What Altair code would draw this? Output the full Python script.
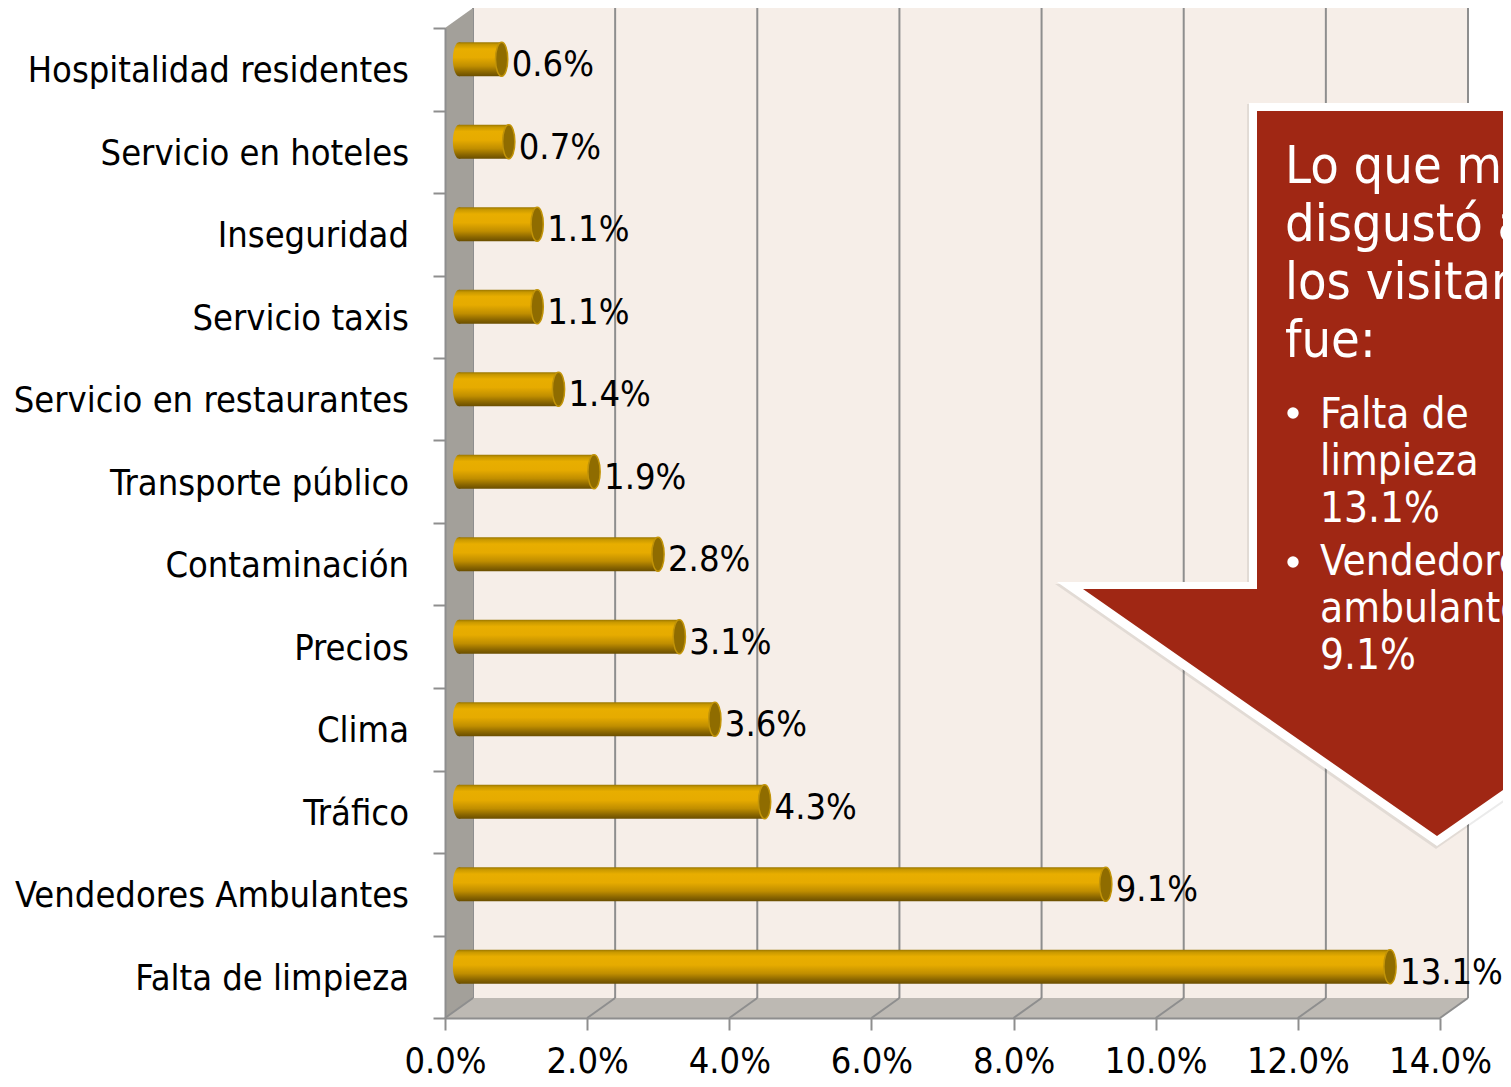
import altair as alt
import pandas as pd

# ---------------- data ----------------
categories = [
    "Hospitalidad residentes", "Servicio en hoteles", "Inseguridad",
    "Servicio taxis", "Servicio en restaurantes", "Transporte público",
    "Contaminación", "Precios", "Clima", "Tráfico",
    "Vendedores Ambulantes", "Falta de limpieza",
]
values = [0.6, 0.7, 1.1, 1.1, 1.4, 1.9, 2.8, 3.1, 3.6, 4.3, 9.1, 13.1]
x_ticks = [0, 2, 4, 6, 8, 10, 12, 14]
callout_title = ["Lo que más\ndisgustó a\nlos visitantes\nfue:"]
callout_items = ["Falta de\nlimpieza\n13.1%", "Vendedores\nambulantes\n9.1%"]

# ---------------- geometry ----------------
W, H = 995, 990
XMAX = 14
NROWS = len(categories)
PXX = W / XMAX
PXY = H / NROWS
DX = 28 / PXX
DY = 20 / PXY
HB = 17 / PXY
FONT = "DejaVu Sans Condensed"
GRAY = "#8E8E8E"


def X(px):
    return (px - 445) / PXX


def Y(py):
    return (1018 - py) / PXY


xs = alt.Scale(domain=[0, XMAX], nice=False, zero=False)
ys = alt.Scale(domain=[0, NROWS], nice=False, zero=False)
axX = alt.Axis(values=x_ticks, labelExpr="format(datum.value, '.1f') + '%'",
               labelFont=FONT, labelFontSize=36, labelColor="black",
               labelPadding=14, labelOverlap=False, labelFlush=False,
               tickSize=12, tickColor=GRAY, tickWidth=2,
               domainColor=GRAY, domainWidth=2, grid=False, title=None, zindex=1)
axY = alt.Axis(values=list(range(NROWS + 1)), labels=False, tickSize=12,
               tickColor=GRAY, tickWidth=2, domainColor=GRAY, domainWidth=2,
               grid=False, title=None, zindex=1)


def ex(f, **kw):
    return alt.X(f, scale=xs, axis=axX, title=None, **kw)


def ey(f, **kw):
    return alt.Y(f, scale=ys, axis=axY, title=None, **kw)


# ---------------- tables ----------------
bars = pd.DataFrame({"cat": categories, "val": values})
bars["row"] = [NROWS - i - 0.5 for i in range(NROWS)]
bars["yc"] = bars["row"] + DY / 2
bars["ylo"] = bars["yc"] - HB
bars["yhi"] = bars["yc"] + HB
bars["x0"] = DX / 2
bars["x1"] = bars["val"] + DX / 2
bars["lab"] = bars["val"].map(lambda v: f"{v:.1f}%")

wall = pd.DataFrame({"x": [DX], "x2": [XMAX + DX], "y": [DY], "y2": [NROWS + DY]})
side = pd.DataFrame({"x": [0, DX], "y": [0, DY], "y2": [NROWS, NROWS + DY]})
floor = pd.DataFrame({"x": [0, DX, XMAX, XMAX + DX],
                      "y": [0, 0, 0, DY], "y2": [0, DY, DY, DY]})
grid = pd.DataFrame({"t": x_ticks})

# ---------------- layers ----------------
back = alt.Chart(wall).mark_rect(color="#F6EEE8").encode(
    x=ex("x:Q"), x2="x2:Q", y=ey("y:Q"), y2="y2:Q")

side_l = alt.Chart(side).mark_area(color="#A3A09A", orient="vertical").encode(
    x=ex("x:Q"), y=ey("y:Q"), y2="y2:Q")

floor_l = alt.Chart(floor).mark_area(color="#BDB9B3", orient="vertical").encode(
    x=ex("x:Q"), y=ey("y:Q"), y2="y2:Q")

grid_back = alt.Chart(grid).transform_calculate(
    xb=f"datum.t + {DX}", yb=f"{DY}", yt=f"{NROWS + DY}"
).mark_rule(color=GRAY, strokeWidth=2).encode(
    x=ex("xb:Q"), y=ey("yb:Q"), y2="yt:Q")

grid_floor = alt.Chart(grid).transform_calculate(
    xb=f"datum.t + {DX}", y0="0", yb=f"{DY}"
).mark_rule(color=GRAY, strokeWidth=2).encode(
    x=ex("t:Q"), x2="xb:Q", y=ey("y0:Q"), y2="yb:Q")

grad = alt.LinearGradient(
    gradient="linear", x1=0, x2=0, y1=0, y2=1,
    stops=[
        alt.GradientStop(color="#9A7600", offset=0.0),
        alt.GradientStop(color="#C89800", offset=0.07),
        alt.GradientStop(color="#E8AE00", offset=0.2),
        alt.GradientStop(color="#E6AB00", offset=0.45),
        alt.GradientStop(color="#C08E00", offset=0.7),
        alt.GradientStop(color="#8A6600", offset=0.88),
        alt.GradientStop(color="#6A4E00", offset=1.0),
    ])

k = 0.5523
a = 0.36
ELL = (f"M0,-1 C{k*a:.4f},-1 {a},-{k} {a},0 C{a},{k} {k*a:.4f},1 0,1 "
       f"C-{k*a:.4f},1 -{a},{k} -{a},0 C-{a},-{k} -{k*a:.4f},-1 0,-1 Z")

cap_left = alt.Chart(bars).mark_point(
    shape=ELL, size=34 * 34, filled=True, fill=grad, opacity=1, strokeWidth=0
).encode(x=ex("x0:Q"), y=ey("yc:Q"))

body = alt.Chart(bars).mark_rect(fill=grad).encode(
    x=ex("x0:Q"), x2="x1:Q", y=ey("ylo:Q"), y2="yhi:Q")

cap_right = alt.Chart(bars).mark_point(
    shape=ELL, size=34 * 34, filled=True, fill="#8F6C00", stroke="#C29408",
    strokeWidth=1.5, opacity=1
).encode(x=ex("x1:Q"), y=ey("yc:Q"))

val_lab = alt.Chart(bars).mark_text(
    align="left", baseline="middle", dx=10, dy=-4, font=FONT, fontSize=36,
    color="black"
).encode(x=ex("x1:Q"), y=ey("row:Q"), text="lab:N")

cat_lab = alt.Chart(bars).mark_text(
    align="right", baseline="middle", dy=2, font=FONT, fontSize=36, color="black"
).encode(x=alt.value(-36), y=ey("row:Q"), text="cat:N")

# ---------------- callout ----------------
def arrow(left_pt, body_l, body_r, right_pt, top, neck, tip_x, tip_y):
    def slant(x):
        if x <= tip_x:
            return neck + (x - left_pt) * (tip_y - neck) / (tip_x - left_pt)
        return neck + (right_pt - x) * (tip_y - neck) / (right_pt - tip_x)
    pts = [
        (left_pt, neck, neck),
        (body_l, neck, slant(body_l)),
        (body_l + 0.01, top, slant(body_l)),
        (tip_x, top, tip_y),
        (body_r, top, slant(body_r)),
        (body_r + 0.01, neck, slant(body_r)),
        (right_pt, neck, neck),
    ]
    return pd.DataFrame({"x": [X(p[0]) for p in pts],
                         "y": [Y(p[1]) for p in pts],
                         "y2": [Y(p[2]) for p in pts]})


shadow_df = arrow(1055, 1247, 1627, 1819, 104, 584, 1436, 849)
white_df = arrow(1057, 1249, 1625, 1817, 103, 582, 1437, 846)
red_df = arrow(1083, 1257, 1617, 1791, 111, 589, 1437, 836)

shadow = alt.Chart(shadow_df).mark_area(color="#000000", opacity=0.08, orient="vertical").encode(
    x=ex("x:Q"), y=ey("y:Q"), y2="y2:Q")
white = alt.Chart(white_df).mark_area(color="#FFFFFF", orient="vertical").encode(
    x=ex("x:Q"), y=ey("y:Q"), y2="y2:Q")
red = alt.Chart(red_df).mark_area(color="#A02714", orient="vertical").encode(
    x=ex("x:Q"), y=ey("y:Q"), y2="y2:Q")

title_txt = alt.Chart(pd.DataFrame({"t": callout_title})).mark_text(
    align="left", baseline="alphabetic", font=FONT, fontSize=52, color="white",
    lineBreak="\n", lineHeight=58
).encode(x=alt.value(1285 - 445), y=alt.value(183 - 28), text="t:N")

items_df = pd.DataFrame({"t": callout_items, "i": [0, 1]})
items_txt = alt.Chart(items_df).transform_calculate(
    yy="datum.i * 147 + 400"
).mark_text(
    align="left", baseline="alphabetic", font=FONT, fontSize=42, color="white",
    lineBreak="\n", lineHeight=47
).encode(x=alt.value(1320 - 445), y=alt.Y("yy:Q", scale=None), text="t:N")

bullets = alt.Chart(items_df).transform_calculate(
    yy="datum.i * 149 + 385"
).mark_point(shape="circle", filled=True, color="white", size=130, opacity=1).encode(
    x=alt.value(1293 - 445), y=alt.Y("yy:Q", scale=None))

chart = alt.layer(
    back, grid_back, side_l, floor_l, grid_floor,
    cap_left, body, cap_right, val_lab, cat_lab,
    shadow, white, red, title_txt, items_txt, bullets,
).properties(
    width=W, height=H,
    padding={"left": 437, "top": 20, "right": 63, "bottom": 61},
    autosize=alt.AutoSizeParams(type="none"),
).configure_view(stroke=None).configure(background="white")

chart.save("out.html", embed_options={"renderer": "svg", "actions": False})
